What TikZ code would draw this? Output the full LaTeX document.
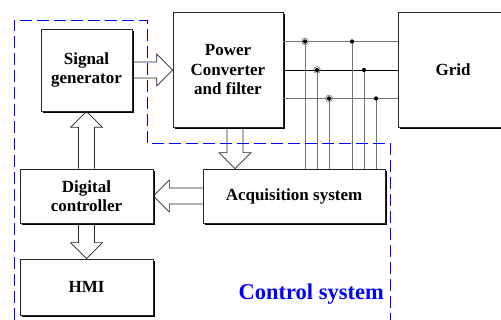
\documentclass[tikz,border=0pt]{standalone}
\usepackage{fontspec}
\setmainfont{Liberation Serif}
\usetikzlibrary{calc,shadows}

\begin{document}
\begin{tikzpicture}[x=1pt, y=1pt, line join=miter,
    block/.style={draw=black!85, line width=0.7pt, fill=white, align=center, inner sep=0pt,
      font=\fontsize{17}{19.5}\selectfont\bfseries,
      drop shadow={shadow xshift=1.6pt, shadow yshift=-1.6pt, fill=black, opacity=1}},
    % Hollow block arrow from the start point to the target, open at its base.
    fat/.style={draw=black!85, line width=0.7pt, to path={
      ($(\tikztostart)!8pt!90:(\tikztotarget)$)
      -- ($(\tikztotarget)!16pt!(\tikztostart)!8pt!-90:(\tikztostart)$)
      -- ($(\tikztotarget)!16pt!(\tikztostart)!16pt!-90:(\tikztostart)$)
      -- (\tikztotarget)
      -- ($(\tikztotarget)!16pt!(\tikztostart)!16pt!90:(\tikztostart)$)
      -- ($(\tikztotarget)!16pt!(\tikztostart)!8pt!90:(\tikztostart)$)
      -- ($(\tikztostart)!8pt!-90:(\tikztotarget)$)}},
    phase/.style={line width=0.9pt},
    tap/.style={draw=black!55, line width=0.8pt},
    zone/.style={draw=blue, line width=0.9pt, dash pattern=on 12pt off 5pt}]
  \useasboundingbox (0,0) rectangle (501,320);

  % The blocks of the chain, power side on top, control side below.
  \node[block, minimum width=91pt, minimum height=82pt] (sig) at (86.5,250) {Signal\\generator};
  \node[block, minimum width=110pt, minimum height=115pt] (conv) at (228,250) {Power\\Converter\\and filter};
  \node[block, minimum width=110pt, minimum height=115pt] (grid) at (453,250) {Grid};
  \node[block, minimum width=182pt, minimum height=54pt] (acq) at (294,124) {Acquisition system};
  \node[block, minimum width=133pt, minimum height=54pt] (dig) at (86.5,124) {Digital\\controller};
  \node[block, minimum width=133pt, minimum height=56pt] (hmi) at (86.5,33) {HMI};

  % Data flow between the blocks.
  \draw[fat] (sig.east) to (conv.west);
  \draw[fat] (dig.north) to (sig.south);
  \coordinate (meas) at ([xshift=7pt]conv.south);
  \draw[fat] (meas) to (meas |- acq.north);
  \draw[fat] (acq.west) to (dig.east);
  \draw[fat] (dig.south) to (hmi.north);

  % Three phases to the grid, each tapped twice for the measurements.
  \foreach \i/\dy in {1/28.5, 2/0, 3/-28.5}
    \coordinate (ph\i) at ([yshift=\dy pt]conv.east);
  \draw[phase, draw=black!55] (ph1) -- (ph1 -| grid.west);
  \draw[phase] (ph2) -- (ph2 -| grid.west);
  \draw[phase, draw=black!55] (ph3) -- (ph3 -| grid.west);
  \foreach \xa/\xb/\i in {305/352/1, 317/364/2, 329/376/3} {
    \draw[tap] (\xa,0 |- ph\i) -- (\xa,0 |- acq.north);
    \draw[tap] (\xb,0 |- ph\i) -- (\xb,0 |- acq.north);
    \fill (\xa,0 |- ph\i) circle (2.1);
    \draw[black!55, line width=0.6pt] (\xa,0 |- ph\i) circle (3.4);
    \fill (\xb,0 |- ph\i) circle (2.1);
  }

  % Boundary of the control system.
  \draw[zone] (14,0) -- (14,300) -- (147,300) -- (147,176.7) -- (390,176.7) -- (390,0);
  \node[anchor=base east, inner sep=0pt, text=blue, font=\fontsize{22.5}{25}\selectfont\bfseries]
    (zonelabel) at (384,20.5) {Control system};
\end{tikzpicture}
\end{document}
